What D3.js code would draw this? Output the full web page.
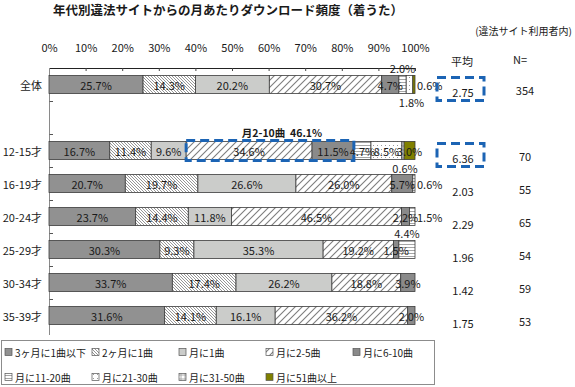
<!DOCTYPE html>
<html>
<head>
<meta charset="utf-8">
<script src="https://cdn.jsdelivr.net/npm/d3@7"></script>
<style>
body { margin: 0; background: #fff; }
svg text { font-family: "Noto Sans CJK JP", "Noto Sans", sans-serif; fill: #1a1a1a; }
</style>
</head>
<body>
<div id="chart"></div>
<script>
// frequency categories (legend order = stack order)
var freqCats = ["3ヶ月に1曲以下", "2ヶ月に1曲", "月に1曲", "月に2-5曲", "月に6-10曲",
                "月に11-20曲", "月に21-30曲", "月に31-50曲", "月に51曲以上"];

// age groups
var ageRows = ["全体", "12-15才", "16-19才", "20-24才", "25-29才", "30-34才", "35-39才"];

// shares per age group (%), same order as freqCats
var shareAll  = [25.7, 14.3, 20.2, 30.7, 4.7, 2.0, 1.8, 0, 0.6];
var share1215 = [16.7, 11.4, 9.6, 34.6, 11.5, 4.7, 8.5, 0.6, 3.0];
var share1619 = [20.7, 19.7, 26.6, 26.0, 5.7, 0.6, 0, 0, 0];
var share2024 = [23.7, 14.4, 11.8, 46.5, 2.2, 1.5, 0, 0, 0];
var share2529 = [30.3, 9.3, 35.3, 19.2, 1.5, 4.4, 0, 0, 0];
var share3034 = [33.7, 17.4, 26.2, 18.8, 3.9, 0, 0, 0, 0];
var share3539 = [31.6, 14.1, 16.1, 36.2, 2.0, 0, 0, 0, 0];

var meanValues = [2.75, 6.36, 2.03, 2.29, 1.96, 1.42, 1.75];
var nValues    = [354, 70, 55, 65, 54, 59, 53];

var tickValues = [0, 0.1, 0.2, 0.3, 0.4, 0.5, 0.6, 0.7, 0.8, 0.9, 1];

var shareRows = [shareAll, share1215, share1619, share2024, share2529, share3034, share3539];

// labels of thin segments that sit outside the bar
var outsideLabels = {
    "全体|5": "above", "全体|6": "below", "全体|8": "right",
    "12-15才|7": "below",
    "16-19才|5": "right",
    "20-24才|5": "right",
    "25-29才|5": "above"
};

// Width and height
var width  = 575;
var height = 387;

var svg = d3.select("#chart")
        .append("svg")
        .attr("width", width)
        .attr("height", height);

// patterns
var defs = svg.append("defs");

function addPattern(id, size, draw) {
    var p = defs.append("pattern")
            .attr("id", id)
            .attr("patternUnits", "userSpaceOnUse")
            .attr("width", size)
            .attr("height", size);
    p.append("rect").attr("width", size).attr("height", size).attr("fill", "#fff");
    draw(p);
}
addPattern("pFine", 3, function(p){
    p.append("path").attr("d", "M0,0L3,3M-1,2L1,4M2,-1L4,1")
     .attr("stroke", "#8a8a8a").attr("stroke-width", 0.9);
});
addPattern("pWide", 7, function(p){
    p.append("path").attr("d", "M0,7L7,0M-1,1L1,-1M6,8L8,6")
     .attr("stroke", "#7d7d7d").attr("stroke-width", 1.1);
});
addPattern("pHoriz", 3, function(p){
    p.append("path").attr("d", "M0,1.5H3")
     .attr("stroke", "#9c9c9c").attr("stroke-width", 0.9);
});
addPattern("pDots", 4, function(p){
    p.append("rect").attr("x", 1).attr("y", 1).attr("width", 1).attr("height", 1)
     .attr("fill", "#9a9a9a");
});
addPattern("pGrid", 4, function(p){
    p.append("path").attr("d", "M0,2H4M2,0V4")
     .attr("stroke", "#9c9c9c").attr("stroke-width", 0.8);
});

var fills = ["#919191", "url(#pFine)", "#cbccca", "url(#pWide)", "#8a8a8a",
             "url(#pHoriz)", "url(#pDots)", "url(#pGrid)", "#808000"];

// scales
var bandRows = [ageRows[0], "gap"].concat(ageRows.slice(1));

var x = d3.scaleLinear()
        .domain([0, 1])
        .range([49, 415]);

var y = d3.scaleBand()
        .domain(bandRows)
        .range([68, 332])
        .paddingInner(0.45)
        .paddingOuter(0.225);

var bh = y.bandwidth();

// table for the stack
var table = ageRows.map(function(r, i){
    var o = { row: r };
    freqCats.forEach(function(c, j){ o[c] = shareRows[i][j]; });
    return o;
});

var series = d3.stack()
        .keys(freqCats)
        .offset(d3.stackOffsetExpand)(table);

// title
svg.append("text")
    .attr("x", 228)
    .attr("y", 15)
    .attr("text-anchor", "middle")
    .style("font-size", "12.5px")
    .style("font-weight", "bold")
    .text("年代別違法サイトからの月あたりダウンロード頻度（着うた）");

svg.append("text")
    .attr("x", 572)
    .attr("y", 35)
    .attr("text-anchor", "end")
    .style("font-size", "10px")
    .text("(違法サイト利用者内)");

// top axis
var xAxis = svg.append("g")
        .attr("transform", "translate(0,68)")
        .call(d3.axisTop(x)
            .tickValues(tickValues)
            .tickFormat(d3.format(".0%"))
            .tickSizeInner(-3)
            .tickSizeOuter(0)
            .tickPadding(16));
xAxis.attr("font-family", null).attr("font-size", null);
xAxis.selectAll("text").style("font-size", "11px");
xAxis.select(".domain").attr("stroke", "#222");
xAxis.selectAll(".tick line").attr("stroke", "#444");

// left axis
svg.append("line")
    .attr("x1", 49.5).attr("x2", 49.5)
    .attr("y1", 68).attr("y2", 335)
    .attr("stroke", "#8a8a8a");

svg.selectAll(".rowTick")
    .data(bandRows.slice(1))
    .enter()
    .append("line")
    .attr("class", "rowTick")
    .attr("x1", 49.5).attr("x2", 53)
    .attr("y1", function(d){ return Math.round(y(d) - (y.step() - bh) / 2) + 0.5; })
    .attr("y2", function(d){ return Math.round(y(d) - (y.step() - bh) / 2) + 0.5; })
    .attr("stroke", "#555");

// row labels
svg.selectAll(".rowLabel")
    .data(ageRows)
    .enter()
    .append("text")
    .attr("class", "rowLabel")
    .attr("x", 42)
    .attr("y", function(d){ return y(d) + bh / 2; })
    .attr("text-anchor", "end")
    .attr("dominant-baseline", "central")
    .style("font-size", "11px")
    .text(function(d){ return d; });

// bars
var layers = svg.selectAll(".layer")
        .data(series)
        .enter()
        .append("g")
        .attr("class", "layer")
        .attr("fill", function(d, i){ return fills[i]; });

layers.selectAll("rect")
    .data(function(d){ return d.filter(function(e){ return e[1] - e[0] > 0; }); })
    .enter()
    .append("rect")
    .attr("x", function(d){ return x(d[0]); })
    .attr("y", function(d){ return y(d.data.row); })
    .attr("width", function(d){ return x(d[1]) - x(d[0]); })
    .attr("height", bh)
    .attr("stroke", "#3c3c3c")
    .attr("stroke-width", 0.8);

// segment labels
var labelData = [];
series.forEach(function(s, j){
    s.forEach(function(d){
        var v = d.data[s.key];
        if (v > 0) labelData.push({ row: d.data.row, j: j, v: v, x0: d[0], x1: d[1] });
    });
});

var pos = function(d){
    var where = outsideLabels[d.row + "|" + d.j];
    var cx = x((d.x0 + d.x1) / 2), cy = y(d.row) + bh / 2;
    if (where === "above") return { x: cx, y: y(d.row) - 7, a: "middle" };
    if (where === "below") return { x: cx + 2, y: y(d.row) + bh + 8, a: "middle" };
    if (where === "right") return { x: x(1) + 2, y: cy, a: "start" };
    return { x: cx, y: cy, a: "middle" };
};

svg.selectAll(".segLabel")
    .data(labelData)
    .enter()
    .append("text")
    .attr("class", "segLabel")
    .attr("x", function(d){ return pos(d).x; })
    .attr("y", function(d){ return pos(d).y; })
    .attr("text-anchor", function(d){ return pos(d).a; })
    .attr("dominant-baseline", "central")
    .style("font-size", "11px")
    .text(function(d){ return d3.format(".1f")(d.v) + "%"; });

// highlight of 月2-10曲 in 12-15才
var hx0 = x(series[3][1][0]), hx1 = x(series[4][1][1]);
svg.append("rect")
    .attr("x", hx0)
    .attr("y", y("12-15才") - 1)
    .attr("width", hx1 - hx0)
    .attr("height", bh + 2)
    .attr("fill", "none")
    .attr("stroke", "#1c64b4")
    .attr("stroke-width", 3)
    .attr("stroke-dasharray", "9,5");

svg.append("text")
    .attr("x", (hx0 + hx1) / 2 + 12)
    .attr("y", y("12-15才") - 9)
    .attr("text-anchor", "middle")
    .attr("dominant-baseline", "central")
    .style("font-size", "10.5px")
    .style("font-weight", "bold")
    .text("月2-10曲\u00a0\u00a0" + d3.format(".1f")(share1215[3] + share1215[4]) + "%");

// mean and N columns
svg.append("text")
    .attr("x", 462).attr("y", 61)
    .attr("text-anchor", "middle")
    .attr("dominant-baseline", "central")
    .style("font-size", "11px")
    .text("平均");
svg.append("text")
    .attr("x", 520).attr("y", 59)
    .attr("text-anchor", "middle")
    .attr("dominant-baseline", "central")
    .style("font-size", "11px")
    .text("N=");

svg.selectAll(".meanVal")
    .data(ageRows)
    .enter()
    .append("text")
    .attr("class", "meanVal")
    .attr("x", 463)
    .attr("y", function(d){ return y(d) + bh / 2 + 7; })
    .attr("text-anchor", "middle")
    .attr("dominant-baseline", "central")
    .style("font-size", "11px")
    .text(function(d, i){ return d3.format(".2f")(meanValues[i]); });

svg.selectAll(".nVal")
    .data(ageRows)
    .enter()
    .append("text")
    .attr("class", "nVal")
    .attr("x", 525)
    .attr("y", function(d){ return y(d) + bh / 2 + 5; })
    .attr("text-anchor", "middle")
    .attr("dominant-baseline", "central")
    .style("font-size", "11px")
    .text(function(d, i){ return nValues[i]; });

// dashed boxes round the highlighted means
svg.selectAll(".meanBox")
    .data(["全体", "12-15才"])
    .enter()
    .append("rect")
    .attr("class", "meanBox")
    .attr("x", 437)
    .attr("y", function(d){ return y(d) + bh / 2 - 7; })
    .attr("width", 47)
    .attr("height", 23)
    .attr("fill", "none")
    .attr("stroke", "#1c64b4")
    .attr("stroke-width", 3)
    .attr("stroke-dasharray", "9,5");

// legend
var legend = svg.append("g");
legend.append("rect")
    .attr("x", 1.5).attr("y", 340.5)
    .attr("width", 433).attr("height", 44)
    .attr("fill", "#fff")
    .attr("stroke", "#8c8c8c");

var items = legend.selectAll(".item")
        .data(freqCats)
        .enter()
        .append("g")
        .attr("class", "item")
        .attr("transform", function(d, i){
            var col = i < 5 ? i : i - 5, row = i < 5 ? 0 : 1;
            return "translate(" + (5 + col * 87) + "," + (352 + row * 25) + ")";
        });

items.append("rect")
    .attr("x", 0).attr("y", -3.5)
    .attr("width", 7).attr("height", 7)
    .attr("fill", function(d, i){ return fills[i]; })
    .attr("stroke", "#555")
    .attr("stroke-width", 0.7);

items.append("text")
    .attr("x", 10)
    .attr("y", 0)
    .attr("dominant-baseline", "central")
    .style("font-size", "10px")
    .text(function(d){ return d; });
</script>
</body>
</html>
